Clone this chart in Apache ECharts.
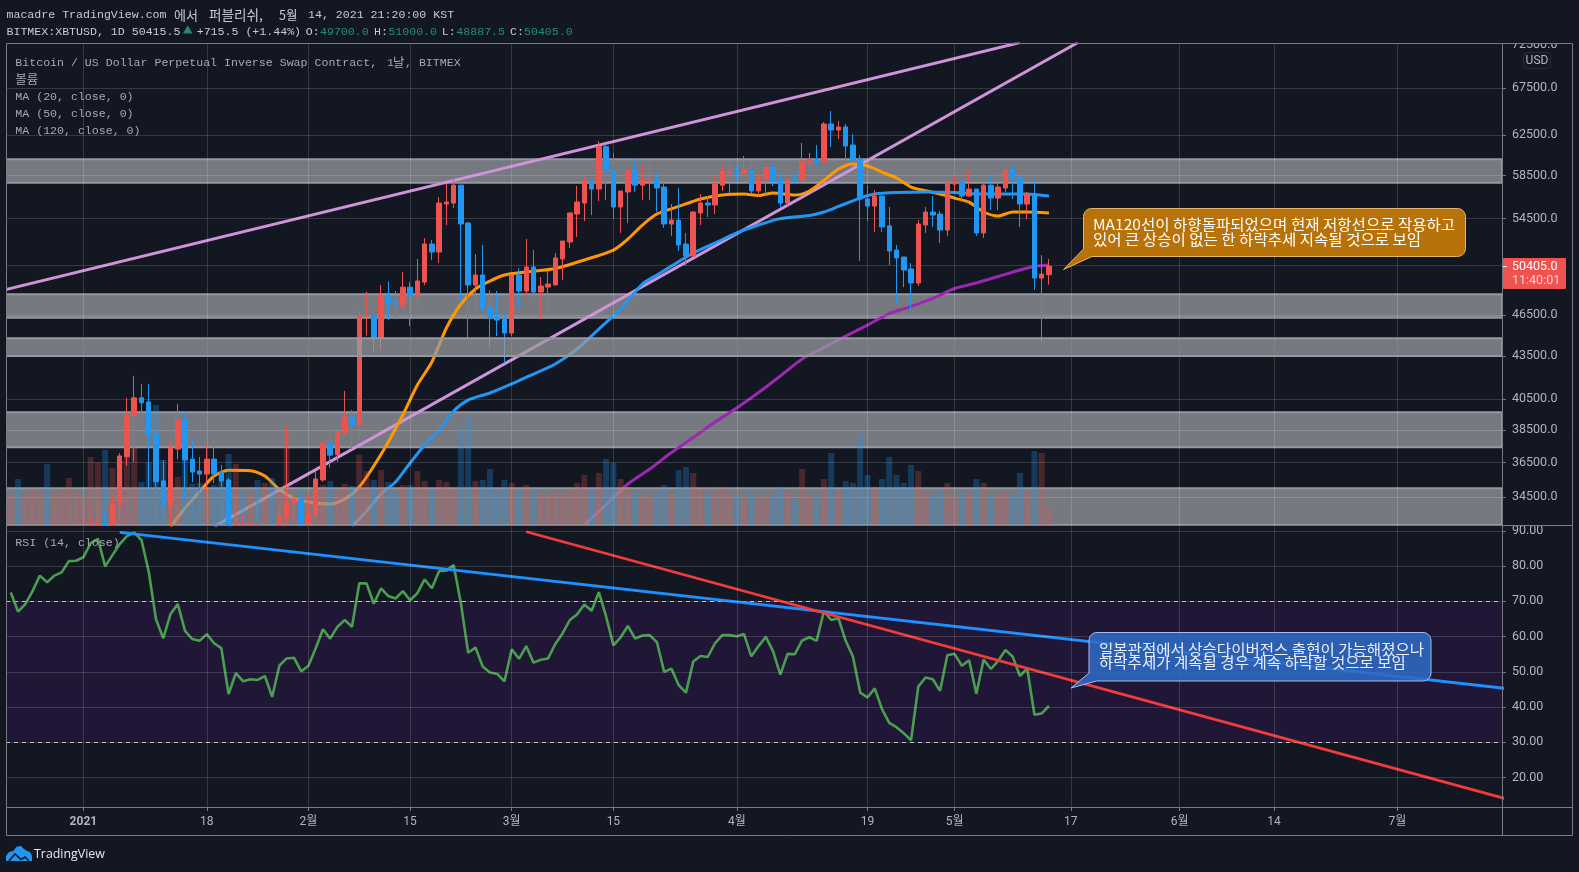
<!DOCTYPE html>
<html>
<head>
<meta charset="utf-8">
<style>html,body{margin:0;padding:0;background:#131722}#c{width:1579px;height:872px}</style>
<script src="https://cdn.jsdelivr.net/npm/echarts@6/dist/echarts.min.js"></script>
</head>
<body>
<div id="c"></div>
<script>
// XBTUSD daily session dates
const dates = ['2020-12-22','2020-12-23','2020-12-24','2020-12-25','2020-12-26','2020-12-27','2020-12-28','2020-12-29','2020-12-30','2020-12-31',
'2021-01-01','2021-01-02','2021-01-03','2021-01-04','2021-01-05','2021-01-06','2021-01-07','2021-01-08','2021-01-09','2021-01-10','2021-01-11','2021-01-12','2021-01-13','2021-01-14','2021-01-15','2021-01-16','2021-01-17','2021-01-18','2021-01-19','2021-01-20','2021-01-21','2021-01-22','2021-01-23','2021-01-24','2021-01-25','2021-01-26','2021-01-27','2021-01-28','2021-01-29','2021-01-30','2021-01-31',
'2021-02-01','2021-02-02','2021-02-03','2021-02-04','2021-02-05','2021-02-06','2021-02-07','2021-02-08','2021-02-09','2021-02-10','2021-02-11','2021-02-12','2021-02-13','2021-02-14','2021-02-15','2021-02-16','2021-02-17','2021-02-18','2021-02-19','2021-02-20','2021-02-21','2021-02-22','2021-02-23','2021-02-24','2021-02-25','2021-02-26','2021-02-27','2021-02-28',
'2021-03-01','2021-03-02','2021-03-03','2021-03-04','2021-03-05','2021-03-06','2021-03-07','2021-03-08','2021-03-09','2021-03-10','2021-03-11','2021-03-12','2021-03-13','2021-03-14','2021-03-15','2021-03-16','2021-03-17','2021-03-18','2021-03-19','2021-03-20','2021-03-21','2021-03-22','2021-03-23','2021-03-24','2021-03-25','2021-03-26','2021-03-27','2021-03-28','2021-03-29','2021-03-30','2021-03-31',
'2021-04-01','2021-04-02','2021-04-03','2021-04-04','2021-04-05','2021-04-06','2021-04-07','2021-04-08','2021-04-09','2021-04-10','2021-04-11','2021-04-12','2021-04-13','2021-04-14','2021-04-15','2021-04-16','2021-04-17','2021-04-18','2021-04-19','2021-04-20','2021-04-21','2021-04-22','2021-04-23','2021-04-24','2021-04-25','2021-04-26','2021-04-27','2021-04-28','2021-04-29','2021-04-30',
'2021-05-01','2021-05-02','2021-05-03','2021-05-04','2021-05-05','2021-05-06','2021-05-07','2021-05-08','2021-05-09','2021-05-10','2021-05-11','2021-05-12','2021-05-13','2021-05-14'];

const opens = [22700,23800,23250,23730,24700,26480,26280,27050,27370,28880,
28990,29400,32200,33050,31500,34040,36850,39420,40600,40320,
38270,35420,34000,37320,39150,36710,36000,35820,36710,35940,
35470,30800,32800,32100,32300,32200,32500,30400,33380,34160,
34370,33050,33490,35470,37690,36970,38320,39340,38820,46450,
46470,44790,48060,47530,47230,48690,47990,49100,52265,51580,
55810,55900,57570,54100,48860,49670,47130,46370,46200,45150,
49670,48380,50330,48300,48700,48860,51000,52440,54900,55900,
57960,57200,61320,59020,55540,56930,59020,57570,57860,58150,
57390,54010,54360,52265,51240,55000,55900,55720,57570,58730,
58920,58730,59020,57020,58150,59300,58050,55900,58150,58050,
59700,60100,59800,63650,63030,63340,61490,60100,56270,55630,
56550,53840,51750,51160,50160,49020,53920,55080,54900,53480,
57670,57860,56550,57200,53220,57570,56360,57300,59020,58340,
55810,56740,49420,49700];

const closes = [23800,23250,23730,24700,26480,26280,27050,27370,28880,28990,
29400,32200,33050,31500,34115,36900,39470,40600,40270,38190,
35370,34000,37390,39150,36650,35940,35820,36710,35820,35410,
30800,32800,32100,32300,32200,32500,30400,33430,34220,34370,
33050,33540,35530,37690,36950,38380,39340,38820,46470,46470,
44790,48060,47430,47230,48690,47990,49190,52265,51580,55900,
55990,57570,54010,48860,49670,47050,46280,46130,45150,49670,
48380,50330,48300,48780,48940,51080,52520,55000,55990,57960,
57200,61320,58920,55540,57020,59020,57570,58050,58150,57300,
54010,54360,52180,51240,55080,55900,55720,57680,58820,58920,
58730,59020,57020,58240,59300,57960,55900,58150,58000,59900,
60100,59860,63650,63030,63340,61390,59990,56270,55630,56550,
53750,51670,51080,50080,49020,54010,55080,54810,53480,57770,
57860,56550,57200,53220,57570,56360,57390,59020,58240,55810,
56740,49420,49750,50405];

const highs = [24000,24100,24000,24800,26900,28400,27400,27850,29000,29300,
29650,33400,34900,33700,34600,37080,40600,42080,41530,41530,
38400,36650,37800,40190,39700,37880,36840,37510,37880,36360,
35590,33800,33540,33120,34900,32900,32800,33820,38760,34900,
34370,34720,36000,37710,38820,38400,41050,39790,46960,48330,
47530,48860,49150,48380,49920,49090,51000,52780,52610,56450,
57680,58440,57570,54180,51410,52180,48460,48380,46680,49670,
50240,52700,51750,49500,50000,51500,52520,55000,57490,58350,
58350,61900,61600,60690,57020,59020,60180,59500,60000,58630,
58530,55810,57300,53220,55170,56740,56550,58440,59500,60000,
59500,60390,59900,58630,59400,59600,58730,58150,58920,61700,
60690,61490,63860,65020,63970,63650,62610,60490,57570,57110,
56550,55540,52180,51160,50660,54360,55540,56550,55170,57960,
58530,58050,59020,57200,57960,58440,58820,59700,59400,59800,
56930,58050,51320,51000];

const lows = [22400,22700,22700,23400,24500,25800,26100,26500,27200,27900,
28700,29000,32000,28000,30000,33340,36310,36550,38760,34930,
30400,32000,32500,36710,34330,35350,33820,34720,35300,33210,
28800,28800,31400,30900,31000,30900,29300,29900,32000,32300,
32300,32300,33400,35370,36190,36550,38320,37320,38030,44960,
43790,43980,46130,46200,46880,45680,47050,48860,50910,50660,
53920,55450,47500,44790,46880,46650,44060,44930,42960,44930,
47050,48060,47440,46200,47050,48860,49260,51930,52870,54270,
54800,56090,56180,54450,53220,54100,56930,56180,56180,55080,
53660,52960,51670,50410,51240,53920,54640,54900,57020,56830,
57860,58340,56740,56450,56550,57490,55450,55630,57770,57860,
59220,59400,59700,61290,62100,59900,59800,50830,54270,53300,
53300,50490,47440,48690,46960,48780,53220,53750,52350,52960,
57020,55990,56450,52960,52790,55260,55260,56930,56270,53750,
54450,48460,44500,48887.5];

const volumes = [2.9,4.6,2.9,3.6,3.4,6.1,3.3,3.4,4.7,3.4,
2.8,6.8,6.3,7.5,5.7,6.4,7.2,7.8,4.3,6.3,
12.0,6.5,4.1,4.8,6.4,4.1,4.2,3.4,4.0,5.1,
7.1,6.1,3.4,3.1,4.5,4.2,4.7,3.3,9.6,2.9,
3.5,2.9,3.3,4.0,4.4,3.4,4.1,3.9,7.0,5.4,
4.5,5.5,4.3,3.2,4.0,4.0,5.4,4.4,3.5,4.5,
4.3,3.5,9.5,10.8,4.4,4.5,5.6,3.3,4.5,4.2,
3.6,4.0,3.4,3.2,3.0,3.4,3.2,3.5,4.2,5.0,
3.6,5.2,6.6,6.2,4.6,3.8,3.3,3.0,2.8,3.3,
4.0,3.2,5.5,5.8,5.2,3.6,3.2,3.6,3.8,3.2,
3.0,2.8,3.4,2.8,3.0,3.0,3.8,3.4,2.6,5.6,
3.0,2.8,4.6,7.2,3.4,4.4,4.2,9.2,5.0,3.8,
4.6,6.8,5.0,4.2,6.0,5.4,3.4,3.0,3.6,4.2,
2.8,3.2,3.2,4.6,4.2,3.0,3.0,3.4,3.0,5.2,
3.4,7.4,7.2,1.8];

const rsi14 = [72.5,67.1,69.2,72.9,77.3,75.4,77.3,78.2,81.4,81.5,
82.5,86.5,87.7,79.9,83.1,86.2,88.5,89.5,87.4,78.4,
64.9,59.5,66.4,69.2,61.6,59.3,58.8,60.7,58.1,56.7,
43.7,49.6,47.3,47.9,47.7,48.8,42.9,51.8,53.8,54.0,
50.1,51.7,56.7,62.1,59.4,62.8,64.7,62.8,75.1,75.1,
69.3,73.7,71.5,70.8,72.9,70.3,72.3,76.2,73.7,78.6,
78.7,80.3,69.4,55.4,56.9,51.5,49.8,49.4,47.3,56.4,
53.7,57.3,52.6,53.4,53.8,57.9,60.9,64.7,66.3,69.1,
67.3,72.6,65.7,57.5,59.8,63.0,59.4,60.3,60.4,58.4,
50.0,50.9,46.2,44.1,52.9,54.5,54.2,58.1,60.4,60.4,
60.1,60.7,54.4,57.3,59.9,55.8,49.2,55.1,55.0,58.9,
59.8,58.8,67.2,64.7,65.2,58.8,54.3,44.1,42.7,45.3,
39.4,35.5,34.3,32.6,30.6,45.8,48.4,47.9,44.6,54.7,
55.1,51.7,53.3,43.8,53.5,50.8,53.1,56.2,54.3,48.8,
51.0,37.8,38.2,40.3];

// Moving averages, as day offsets from 2021-01-01 and their levels
const ma20Days = [12,14,16,18,20,23,25,27,29,31,34,36,38,40,42,44,46,48,50,52,54,56,58,61,65,69,73,75,77,79,82,85,88,91,93,95,98,100,102,104,106,108,110,112,114,116,118,120,122,124,126,128,130,133];
const ma20Values = [32835,33877,34800,35704,36040,36020,35704,34922,34420,34212,34099,34380,35065,36296,37755,39467,41460,43057,45530,47360,48540,49180,49670,49917,50206,50910,51750,52695,53920,54904,55590,56270,56640,56737,56595,56830,56640,57020,58010,59115,59603,59405,58820,58250,57390,57040,56737,56360,55990,55085,54725,55085,55085,54995];
const ma50Days = [37,39,41,43,45,47,49,51,53,56,59,62,65,68,71,74,77,79,81,84,87,90,93,96,100,102,104,107,109,112,116,120,124,128,130,133];
const ma50Values = [32870,33710,34664,35354,36475,37570,38500,39730,40450,40920,41530,42216,42915,43985,45450,46970,48940,49670,50410,51500,52350,53220,53920,54490,54770,55085,55590,56360,56737,56880,56930,56880,56737,56737,56737,56550];
const ma120Days = [69,72,75,78,81,84,87,90,93,96,99,102,105,108,111,114,117,120,123,126,129,131,133];
const ma120Values = [32940,34070,35238,36115,37110,38030,39015,39925,40950,42080,43270,44090,44930,45750,46620,47170,47800,48580,49020,49550,50080,50370,50490];

// Hand-drawn trend lines: [day offset, level] end points
const wedgeUpperDays = [-11,129];
const wedgeUpperPrices = [48450,72760];
const wedgeLowerDays = [18,137];
const wedgeLowerPrices = [32855,72770];
const rsiBlueDays = [5,196];
const rsiBlueValues = [89.57,45.26];
const rsiRedDays = [61,196];
const rsiRedValues = [89.74,13.95];

// Support and resistance zones: [top, bottom]
const zone60k = [60064,57802];
const zone48k = [48124,46310];
const zone44k = [44770,43486];
const zone38k = [39643,37433];
const zone34k = [34996,32945];

const xTickDates = ['2021-01-01','2021-01-18','2021-02-01','2021-02-15','2021-03-01','2021-03-15','2021-04-01','2021-04-19','2021-05-01','2021-05-17','2021-06-01','2021-06-14','2021-07-01'];
const xTickLabels = ['2021','18','2월','15','3월','15','4월','19','5월','17','6월','14','7월'];
const priceLabelTicks = [72500,67500,62500,58500,54500,46500,43500,40500,38500,36500,34500];
const priceGridTicks = [67500,62500,58500,54500,50500,46500,43500,40500,38500,36500,34500];
const rsiTicks = [20,30,40,50,60,70,80,90];

const BG = '#131722', UP = '#ef5350', DOWN = '#2196f3', GRID = 'rgba(255,255,255,0.15)', FRAME = '#787b86', TEXT = '#b2b5be';
const dayOf = s => (Date.parse(s + 'T00:00:00Z') - Date.UTC(2021, 0, 1)) / 864e5;
const days = dates.map(dayOf);
const xTickDays = xTickDates.map(dayOf);
const zip = (a, b) => a.map((v, i) => [v, b[i]]);
const priceMin = 32945, priceMax = 72588;

// Draw order, low to high
const Z = {zoneBack: 10, line: 20, zoneMid: 30, axis: 35, volume: 40, candle: 50, zoneFront: 60};

const zoneSeries = (zone, z) => ({
  type: 'line', xAxisIndex: 0, yAxisIndex: 0, data: [], silent: true,
  markArea: {
    silent: true, z,
    itemStyle: {color: 'rgba(152,155,160,0.75)', borderColor: '#9598a1', borderWidth: 2},
    data: [[{yAxis: zone[0]}, {yAxis: zone[1]}]]
  }
});
const lineSeries = (data, color, width, xi, yi, z) => ({
  type: 'line', xAxisIndex: xi, yAxisIndex: yi, data, z: z || Z.line, silent: true,
  showSymbol: false, symbol: 'none', lineStyle: {color, width}, clip: true
});
const maSeries = (d, v, color) => Object.assign(lineSeries(zip(d, v), color, 3, 0, 0), {smooth: 0.25});

// Candles reaching under the price pane stop at its lower edge
const floorPrice = v => Math.max(v, priceMin);
const candleRows = days
  .map((d, i) => [d, opens[i], closes[i], lows[i], highs[i]])
  .filter(r => r[4] > priceMin)
  .map(r => [r[0], floorPrice(r[1]), floorPrice(r[2]), floorPrice(r[3]), r[4]]);

const xMin = -10.66, xMax = 195.4;
const xAxisBase = (gridIndex) => ({
  type: 'value', gridIndex, min: xMin, max: xMax, z: Z.axis,
  splitLine: {show: true, lineStyle: {color: GRID, width: 1}},
  axisLine: {show: false}
});

const option = {
  animation: false,
  backgroundColor: BG,
  textStyle: {fontFamily: 'Roboto, "Noto Sans CJK KR", sans-serif'},
  grid: [
    {left: 6, top: 44, width: 1496, height: 481, show: false},
    {left: 6, top: 525, width: 1496, height: 282, show: false}
  ],
  xAxis: [
    Object.assign(xAxisBase(0), {
      axisTick: {show: false, customValues: xTickDays},
      axisLabel: {show: false}
    }),
    Object.assign(xAxisBase(1), {
      axisTick: {show: true, length: 4, lineStyle: {color: FRAME}, customValues: xTickDays},
      axisLabel: {
        show: true, customValues: xTickDays, margin: 9, color: TEXT, fontSize: 12,
        hideOverlap: false, showMinLabel: true, showMaxLabel: true,
        formatter: v => {
          const t = xTickLabels[xTickDays.indexOf(v)];
          return t === '2021' ? '{y|' + t + '}' : t;
        },
        rich: {y: {fontWeight: 'bold', fontSize: 12, color: TEXT}}
      }
    })
  ],
  yAxis: [
    {
      type: 'log', gridIndex: 0, position: 'right', min: priceMin, max: priceMax, z: Z.axis,
      axisLine: {show: true, onZero: false, lineStyle: {color: FRAME}},
      axisTick: {show: true, length: 4, lineStyle: {color: FRAME}, customValues: priceGridTicks},
      splitLine: {show: true, lineStyle: {color: GRID, width: 1}},
      minorTick: {show: false}, minorSplitLine: {show: false},
      axisLabel: {
        show: true, customValues: priceLabelTicks, margin: 10, color: TEXT, fontSize: 12.5, padding: [2, 0, 0, 0],
        hideOverlap: false, showMinLabel: true, showMaxLabel: true,
        formatter: v => Number(v).toFixed(1)
      }
    },
    {type: 'value', gridIndex: 0, min: 0, max: 48.1, show: false, splitLine: {show: false}},
    {
      type: 'value', gridIndex: 1, position: 'right', min: 11.65, max: 91.65, z: Z.axis,
      axisLine: {show: true, onZero: false, lineStyle: {color: FRAME}},
      axisTick: {show: true, length: 4, lineStyle: {color: FRAME}, customValues: rsiTicks},
      splitLine: {show: true, lineStyle: {color: GRID, width: 1}},
      axisLabel: {
        show: true, customValues: rsiTicks, margin: 10, color: TEXT, fontSize: 12.5, padding: [2, 0, 0, 0],
        hideOverlap: false, formatter: v => Number(v).toFixed(2)
      }
    }
  ],
  series: [
    zoneSeries(zone60k, Z.zoneBack),
    zoneSeries(zone48k, Z.zoneBack),
    zoneSeries(zone38k, Z.zoneBack),
    zoneSeries(zone34k, Z.zoneMid),
    zoneSeries(zone44k, Z.zoneFront),
    {
      type: 'bar', xAxisIndex: 0, yAxisIndex: 1, z: Z.volume, silent: true, barWidth: 6,
      data: volumes.map((v, i) => ({
        value: [days[i], v],
        itemStyle: {color: closes[i] >= opens[i] ? 'rgba(239,83,80,0.25)' : 'rgba(33,150,243,0.28)'}
      }))
    },
    lineSeries(zip(wedgeUpperDays, wedgeUpperPrices), '#ce93d8', 3, 0, 0),
    lineSeries(zip(wedgeLowerDays, wedgeLowerPrices), '#ce93d8', 3, 0, 0),
    maSeries(ma20Days, ma20Values, '#ff9800'),
    maSeries(ma50Days, ma50Values, '#2196f3'),
    maSeries(ma120Days, ma120Values, '#9c27b0'),
    {
      type: 'candlestick', xAxisIndex: 0, yAxisIndex: 0, z: Z.candle, silent: true, barWidth: 5,
      itemStyle: {color: UP, color0: DOWN, borderColor: UP, borderColor0: DOWN, borderWidth: 1},
      data: candleRows
    },
    Object.assign(lineSeries(zip(days, rsi14), '#4a9e4f', 2.6, 1, 2), {
      markArea: {
        silent: true, z: Z.zoneBack,
        itemStyle: {color: 'rgba(110,30,180,0.15)'},
        data: [[{yAxis: 70}, {yAxis: 30}]]
      },
      markLine: {
        silent: true, symbol: 'none', z: Z.line, label: {show: false},
        lineStyle: {color: 'rgba(215,215,220,0.85)', type: [4, 4], width: 1},
        data: [{yAxis: 70}, {yAxis: 30}]
      }
    }),
    lineSeries(zip(rsiBlueDays, rsiBlueValues), '#1e90ff', 2.8, 1, 2, Z.line + 1),
    lineSeries(zip(rsiRedDays, rsiRedValues), '#f23b3b', 2.8, 1, 2, Z.line + 2)
  ]
};

const chart = echarts.init(document.getElementById('c'), null, {renderer: 'canvas', width: 1579, height: 872});
chart.setOption(option);

// Overlay layer: header text, drawing callouts, last-price tag, frame and logo
const MONO = '"Liberation Mono", "DejaVu Sans Mono", monospace';
const KR = '"Noto Sans CJK KR", sans-serif';
const txt = (text, x, y, fill, font, extra) => ({
  type: 'text', z: 100, silent: true,
  style: Object.assign({text, x, y, fill, font, verticalAlign: 'middle', textVerticalAlign: 'middle'}, extra || {})
});
const mono = (text, x, y, fill) => txt(text, x, y, fill, '11.6px ' + MONO);
const hangul = (text, x, y, fill, size) => txt(text, x, y, fill, (size || 12.5) + 'px ' + KR);
// Note text, set slightly wide so its two tight lines stay legible
const noteLine = (text, x, y, fill) => Object.assign(hangul(text, x, y, fill, 14.6), {scaleX: 1.065, originX: x, originY: y});

function calloutPoints(x0, y0, x1, y1, r, tip, attachX, attachY) {
  const pts = [];
  const arc = (cx, cy, a0) => {
    for (let k = 0; k <= 6; k++) {
      const a = a0 + k / 6 * Math.PI / 2;
      pts.push([cx + r * Math.cos(a), cy + r * Math.sin(a)]);
    }
  };
  arc(x1 - r, y0 + r, -Math.PI / 2);
  arc(x1 - r, y1 - r, 0);
  pts.push([attachX, y1], tip, [x0, attachY]);
  arc(x0 + r, y0 + r, Math.PI);
  return pts;
}

const TEAL = '#26897f', HEAD = '#c8cad2', LEG = '#a6a9b2';
const lastClose = closes[closes.length - 1];
const tagY = chart.convertToPixel({yAxisIndex: 0}, lastClose);

const overlay = [
  // Covers the top of the axis label that runs under the frame, and the zone edges left of it
  {type: 'rect', z: 98, silent: true, shape: {x: 1503, y: 30, width: 68, height: 13}, style: {fill: BG}},
  {type: 'rect', z: 98, silent: true, shape: {x: 0, y: 44, width: 6, height: 482}, style: {fill: BG}},
  // Outer frame and pane separators
  {type: 'rect', z: 99, silent: true, shape: {x: 6.5, y: 43.5, width: 1566, height: 792}, style: {fill: 'none', stroke: FRAME, lineWidth: 1}},
  {type: 'line', z: 99, silent: true, shape: {x1: 6, y1: 525.5, x2: 1572, y2: 525.5}, style: {stroke: FRAME, lineWidth: 1}},
  {type: 'line', z: 99, silent: true, shape: {x1: 6, y1: 807.5, x2: 1572, y2: 807.5}, style: {stroke: FRAME, lineWidth: 1}},
  {type: 'line', z: 99, silent: true, shape: {x1: 1502.5, y1: 44, x2: 1502.5, y2: 835}, style: {stroke: FRAME, lineWidth: 1}},

  // Publication line
  mono('macadre TradingView.com', 6.5, 15, HEAD),
  hangul('에서', 174, 15, HEAD, 13),
  hangul('퍼블리쉬,', 209, 15, HEAD, 13.6),
  hangul('5월', 279, 15, HEAD, 12.5),
  mono('14, 2021 21:20:00 KST', 308, 15, HEAD),

  // Symbol and OHLC line
  mono('BITMEX:XBTUSD, 1D 50415.5', 6.5, 32, HEAD),
  {type: 'polygon', z: 100, silent: true, shape: {points: [[183, 33.5], [192.5, 33.5], [187.7, 25.5]]}, style: {fill: TEAL}},
  mono('+715.5 (+1.44%)', 196.7, 32, HEAD),
  mono('O:', 305.7, 32, HEAD), mono('49700.0', 320, 32, TEAL),
  mono('H:', 374, 32, HEAD), mono('51000.0', 388.3, 32, TEAL),
  mono('L:', 441.7, 32, HEAD), mono('48887.5', 456.3, 32, TEAL),
  mono('C:', 510, 32, HEAD), mono('50405.0', 524, 32, TEAL),

  // Indicator legends
  mono('Bitcoin / US Dollar Perpetual Inverse Swap Contract,', 15.3, 62.5, LEG),
  mono('1', 387, 62.5, LEG), hangul('날', 393, 62.5, LEG), mono(', BITMEX', 405, 62.5, LEG),
  hangul('볼륨', 15.3, 79, LEG),
  mono('MA (20, close, 0)', 15.3, 97, LEG),
  mono('MA (50, close, 0)', 15.3, 114, LEG),
  mono('MA (120, close, 0)', 15.3, 130.7, LEG),
  mono('RSI (14, close)', 15.3, 543, LEG),

  // Currency badge
  {type: 'rect', z: 100, silent: true, shape: {x: 1523.5, y: 52.5, width: 27, height: 16, r: 4}, style: {fill: BG, stroke: '#2a2e39', lineWidth: 1}},
  txt('USD', 1537, 60.5, TEXT, '12px Roboto', {align: 'center', textAlign: 'center'}),

  // Last-price tag
  {type: 'rect', z: 100, silent: true, shape: {x: 1503, y: tagY - 8, width: 63, height: 31, r: 1}, style: {fill: '#f0524f'}},
  {type: 'line', z: 101, silent: true, shape: {x1: 1503, y1: tagY + 0.5, x2: 1507, y2: tagY + 0.5}, style: {stroke: '#ffffff', lineWidth: 1}},
  txt(lastClose.toFixed(1), 1512, tagY + 1, '#ffffff', '12.5px Roboto'),
  txt('11:40:01', 1512, tagY + 15, 'rgba(255,255,255,0.72)', '12.5px Roboto'),

  // Orange note
  {type: 'polygon', z: 100, silent: true,
    shape: {points: calloutPoints(1083.5, 208.5, 1465.5, 256.5, 8, [1063.5, 269.5], 1092, 249)},
    style: {fill: '#b8720a', stroke: '#e3b66f', lineWidth: 1}},
  noteLine('MA120선이 하향돌파되었으며 현재 저항선으로 작용하고', 1093, 224, '#ffffff'),
  noteLine('있어 큰 상승이 없는 한 하락추세 지속될 것으로 보임', 1093, 239, '#ffffff'),

  // Blue note
  {type: 'polygon', z: 100, silent: true,
    shape: {points: calloutPoints(1089, 632.5, 1431, 681, 8, [1071, 688], 1096.5, 673)},
    style: {fill: 'rgba(45,106,196,0.88)', stroke: '#a7bce8', lineWidth: 1}},
  noteLine('일봉관점에서 상승다이버전스 출현이 가능해졌으나', 1099, 649, '#e8eefc'),
  noteLine('하락추세가 계속될 경우 계속 하락할 것으로 보임', 1099, 662, '#e8eefc'),

  // Wordmark
  {type: 'polygon', z: 100, silent: true,
    shape: {points: [[6, 861], [6, 856], [9, 852], [13, 851], [17, 846.5], [21, 846], [24, 849], [27, 851], [30, 852], [32, 856], [32, 861]]},
    style: {fill: '#2196f3'}},
  {type: 'polyline', z: 101, silent: true, shape: {points: [[9, 861], [15, 854], [21, 859.5], [25, 857], [29, 861]]}, style: {stroke: BG, fill: 'none', lineWidth: 1.6}},
  txt('TradingView', 34, 854, '#e8e8ec', '12.4px "Open Sans", sans-serif')
];

chart.setOption({graphic: overlay});
</script>
</body>
</html>
